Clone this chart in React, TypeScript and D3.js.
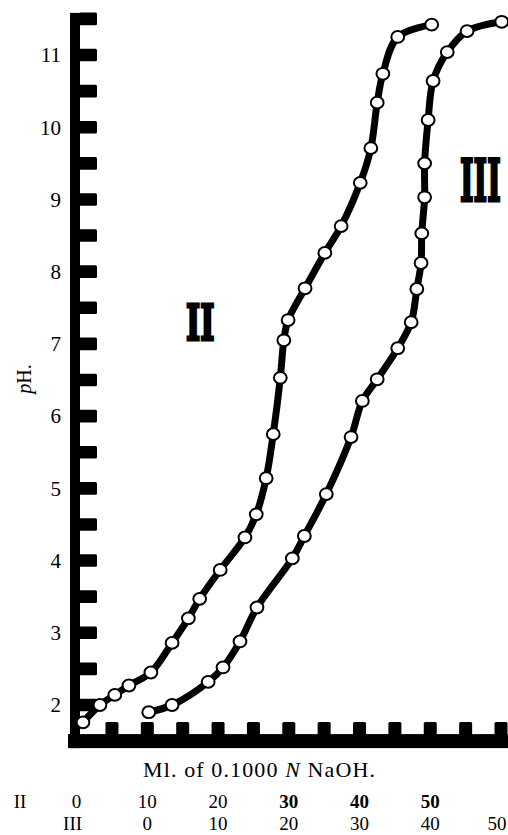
import React, { useRef, useEffect } from "react";
import * as d3 from "d3";

// curve II : ml of NaOH (II scale) vs pH
const volII = [0.9, 3.3, 5.4, 7.4, 10.5, 13.5, 15.8, 17.4, 20.3, 23.8, 25.4, 26.8, 27.8, 28.8, 29.3, 29.9, 32.3, 35.1, 37.4, 40.1, 41.6, 42.5, 43.3, 45.4, 50.2];
const phII = [1.76, 2.0, 2.14, 2.27, 2.45, 2.86, 3.2, 3.47, 3.87, 4.32, 4.64, 5.14, 5.75, 6.53, 7.05, 7.33, 7.77, 8.26, 8.63, 9.23, 9.71, 10.34, 10.74, 11.25, 11.42];

// curve III : ml of NaOH (III scale) vs pH
const volIII = [0.2, 3.5, 8.6, 10.7, 13.1, 15.5, 20.5, 22.2, 25.3, 28.8, 30.4, 32.5, 35.4, 37.3, 38.1, 38.7, 38.8, 39.2, 39.2, 39.7, 40.4, 42.4, 45.2, 50.1];
const phIII = [1.9, 2.0, 2.32, 2.52, 2.88, 3.35, 4.03, 4.34, 4.92, 5.71, 6.21, 6.51, 6.94, 7.3, 7.76, 8.12, 8.53, 9.03, 9.5, 10.1, 10.64, 11.04, 11.33, 11.46];

const yTickLabels = [2, 3, 4, 5, 6, 7, 8, 9, 10, 11];
const yTickMarks = d3.range(2, 11.51, 0.5);
const xTickMarks = d3.range(5, 60.1, 5);
const xLabelsII = [0, 10, 20, 30, 40, 50];
const xLabelsIII = [0, 10, 20, 30, 40, 50];

const W = 508;
const H = 835;
const serif = "'Liberation Serif', 'Times New Roman', serif";

const App = () => {
  const ref = useRef(null);

  useEffect(() => {
    const elt = ref.current;
    if (!elt) return;
    d3.select(elt).select("svg").remove();

    const svg = d3
      .select(elt)
      .append("svg")
      .attr("width", W)
      .attr("height", H)
      .style("position", "absolute")
      .style("left", 0)
      .style("top", 0)
      .style("background", "#fff");

    const xII = d3.scaleLinear().domain([0, 60]).range([76.6, 501]);
    const xIII = d3.scaleLinear().domain([-10, 50]).range([76.6, 501]);
    const y = d3.scaleLinear().domain([2, 11]).range([705, 55]);

    // heavy y axis bar + ticks
    const barLeft = xII(0) - 6.6;
    svg.append("rect")
      .attr("x", barLeft).attr("y", y(11.5) - 6)
      .attr("width", 10).attr("height", y(1.5) + 7 - (y(11.5) - 6))
      .attr("fill", "#000");
    svg.selectAll(".ytick")
      .data(yTickMarks)
      .enter().append("rect")
      .attr("x", barLeft + 9).attr("y", d => y(d) - 6.3)
      .attr("width", 18).attr("height", 12.6)
      .attr("rx", 1.5)
      .attr("fill", "#000");

    // heavy x axis bar + ticks
    svg.append("rect")
      .attr("x", barLeft - 2).attr("y", y(1.5) - 7)
      .attr("width", W - barLeft + 2).attr("height", 14)
      .attr("fill", "#000");
    svg.selectAll(".xtick")
      .data(xTickMarks)
      .enter().append("rect")
      .attr("x", d => xII(d) - 6.5).attr("y", y(1.5) - 19)
      .attr("width", 13).attr("height", 13)
      .attr("rx", 1.5)
      .attr("fill", "#000");

    // y tick labels
    svg.selectAll(".ylab")
      .data(yTickLabels)
      .enter().append("text")
      .attr("x", 61).attr("y", d => y(d))
      .attr("dy", "0.35em")
      .attr("text-anchor", "end")
      .style("font-family", serif).style("font-size", "21px")
      .text(d => d);

    // pH label
    const ph = svg.append("text")
      .attr("transform", "translate(31,379) rotate(-90)")
      .attr("text-anchor", "middle")
      .style("font-family", serif).style("font-size", "20px");
    ph.append("tspan").style("font-style", "italic").text("p");
    ph.append("tspan").text("H.");

    // x title
    const t = svg.append("text")
      .attr("x", 143).attr("y", 777)
      .attr("textLength", 232)
      .style("font-family", serif).style("font-size", "22px");
    t.append("tspan").text("Ml. of 0.1000 ");
    t.append("tspan").style("font-style", "italic").text("N");
    t.append("tspan").text(" NaOH.");

    // x label rows
    const rowFont = "19px";
    svg.append("text").attr("x", 20).attr("y", 808).attr("text-anchor", "middle")
      .style("font-family", serif).style("font-size", rowFont).text("II");
    svg.selectAll(".xlabII")
      .data(xLabelsII)
      .enter().append("text")
      .attr("x", d => xII(d)).attr("y", 808)
      .attr("text-anchor", "middle")
      .style("font-family", serif).style("font-size", rowFont)
      .style("font-weight", d => (d >= 30 ? "bold" : "normal"))
      .text(d => d);
    svg.append("text").attr("x", xIII(-10) - 4).attr("y", 830).attr("text-anchor", "middle")
      .style("font-family", serif).style("font-size", rowFont).text("III");
    svg.selectAll(".xlabIII")
      .data(xLabelsIII)
      .enter().append("text")
      .attr("x", d => Math.min(xIII(d), W - 11)).attr("y", 830)
      .attr("text-anchor", "middle")
      .style("font-family", serif).style("font-size", rowFont)
      .text(d => d);

    // curves
    const ptsII = volII.map((v, i) => [xII(v), y(phII[i])]);
    const ptsIII = volIII.map((v, i) => [xIII(v), y(phIII[i])]);
    const line = d3.line().curve(d3.curveCatmullRom.alpha(0.5));

    [ptsII, ptsIII].forEach(pts => {
      svg.append("path")
        .attr("d", line(pts))
        .attr("fill", "none")
        .attr("stroke", "#000")
        .attr("stroke-width", 7)
        .attr("stroke-linecap", "round");
      svg.append("g").selectAll("ellipse")
        .data(pts)
        .enter().append("ellipse")
        .attr("cx", d => d[0]).attr("cy", d => d[1])
        .attr("rx", 6.4).attr("ry", 5.9)
        .attr("fill", "#fff")
        .attr("stroke", "#000")
        .attr("stroke-width", 2);
    });

    // roman numeral curve labels (squeezed heavy serif so the slabs join)
    svg.append("text")
      .attr("transform", "translate(186,340) scale(0.62,1)")
      .attr("stroke", "#000").attr("stroke-width", 3)
      .style("font-family", "'DejaVu Serif', serif").style("font-weight", "bold")
      .style("font-size", "49px")
      .text("II");
    svg.append("text")
      .attr("transform", "translate(460,201) scale(0.5,1)")
      .attr("stroke", "#000").attr("stroke-width", 3)
      .style("font-family", "'DejaVu Serif', serif").style("font-weight", "bold")
      .style("font-size", "58px")
      .text("III");
  }, []);

  return <div className="ChartContainer" ref={ref}></div>;
};

export default App;
